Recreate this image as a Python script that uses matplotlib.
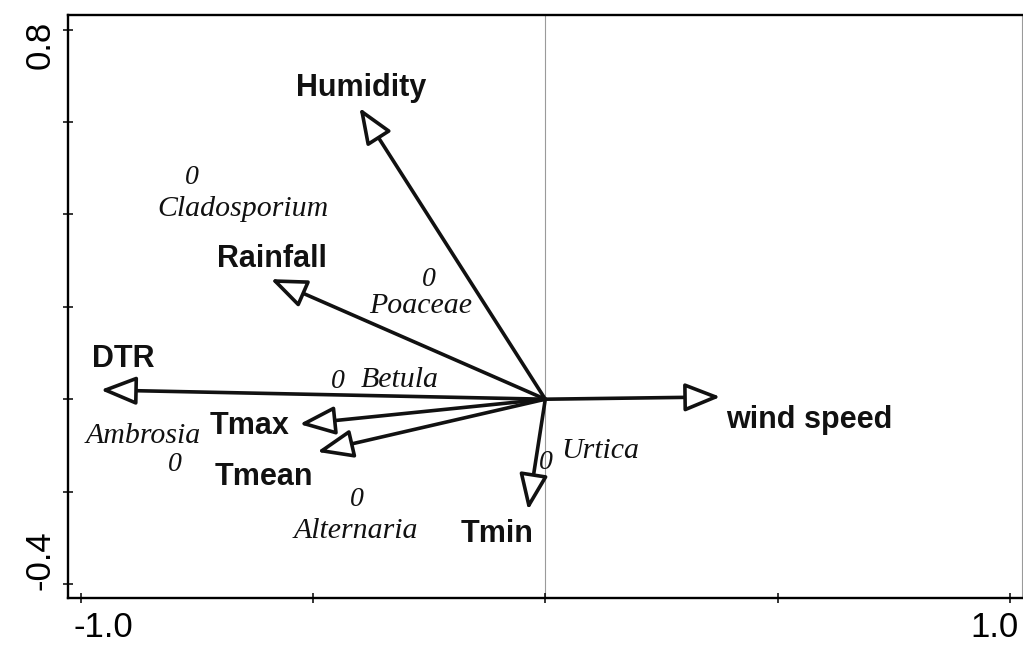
import matplotlib
matplotlib.use("Agg")
import matplotlib.pyplot as plt
from matplotlib.transforms import ScaledTranslation

# ---- data ----
env_names = ["Humidity", "Rainfall", "DTR", "Tmax", "Tmean", "Tmin", "wind speed"]
env_x = [-0.400, -0.591, -0.957, -0.529, -0.491, -0.037, 0.377]
env_y = [0.631, 0.260, 0.020, -0.054, -0.114, -0.240, 0.005]

species_names = ["Cladosporium", "Poaceae", "Betula", "Ambrosia", "Alternaria", "Urtica"]
sp_x = [-0.761, -0.250, -0.446, -0.797, -0.405, 0.001]
sp_y = [0.486, 0.265, 0.045, -0.135, -0.212, -0.132]

xticks = [-1.0, -0.5, 0.0, 0.5, 1.0]
xticklabels = ["-1.0", "", "", "", "1.0"]
yticks = [-0.4, -0.2, 0.0, 0.2, 0.4, 0.6, 0.8]
yticklabels = ["-0.4", "", "", "", "", "", "0.8"]

# ---- layout (label offsets in points) ----
env_label_off = [(1.2, 8.6), (0.7, 8.4), (16, 16.8), (-35.7, -7.2),
                 (-38.4, -23.5), (-22.5, -23), (63.6, -22.5)]
sp_label_off = [(37.2, -29.7), (-5.8, -25.9), (44.4, -6), (-22.5, 13.7),
                (-0.7, -29.5), (39.5, 1.7)]

INK = "#111111"
fig = plt.figure(figsize=(10.23, 6.49), dpi=100)
ax = fig.add_axes([68 / 1023, (649 - 597.5) / 649, 953.7 / 1023, 582.5 / 649])
ax.set_xlim(-1.0272, 1.0253)
ax.set_ylim(-0.4293, 0.8318)

ax.axvline(0, color="#9a9a9a", lw=0.8, zorder=1)

for sp in ["left", "bottom", "top"]:
    ax.spines[sp].set_linewidth(1.7)
    ax.spines[sp].set_color("black")
ax.spines["right"].set_linewidth(0.8)
ax.spines["right"].set_color("#9a9a9a")

ax.set_xticks(xticks)
ax.set_xticklabels(xticklabels)
ax.set_yticks(yticks)
ax.set_yticklabels(yticklabels, rotation=90, va="center")
ax.tick_params(direction="inout", length=7.5, width=1.1, colors="black",
               labelsize=25, pad=6)
for lab in ax.get_xticklabels() + ax.get_yticklabels():
    lab.set_family("Liberation Sans")

xl = ax.get_xticklabels()
xl[0].set_transform(xl[0].get_transform() + ScaledTranslation(0.23, 0, fig.dpi_scale_trans))
xl[-1].set_transform(xl[-1].get_transform() + ScaledTranslation(-0.15, 0, fig.dpi_scale_trans))
yl = ax.get_yticklabels()
yl[0].set_transform(yl[0].get_transform() + ScaledTranslation(0.02, 0.24, fig.dpi_scale_trans))
yl[-1].set_transform(yl[-1].get_transform() + ScaledTranslation(0.02, -0.15, fig.dpi_scale_trans))

# environmental arrows
for name, x, y, off in zip(env_names, env_x, env_y, env_label_off):
    ax.annotate("", xy=(x, y), xytext=(0, 0), xycoords="data", textcoords="data",
                arrowprops=dict(arrowstyle="-|>,head_length=2.2,head_width=0.88",
                                mutation_scale=10, lw=2.6, fc="white", ec=INK,
                                shrinkA=0, shrinkB=0),
                zorder=3)
    ax.annotate(name, xy=(x, y), xytext=off, textcoords="offset points",
                ha="center", va="baseline", fontsize=22, fontweight="bold",
                family="Liberation Sans", color=INK, zorder=4)

# species
for name, x, y, off in zip(species_names, sp_x, sp_y, sp_label_off):
    ax.annotate("0", xy=(x, y), xytext=(0, -6.6), textcoords="offset points",
                ha="center", va="baseline", fontsize=20, style="italic",
                family="Liberation Serif", color=INK, zorder=4)
    ax.annotate(name, xy=(x, y), xytext=off, textcoords="offset points",
                ha="center", va="baseline", fontsize=21.5, style="italic",
                family="Liberation Serif", color=INK, zorder=4)

fig.savefig("out.png", dpi=100)
